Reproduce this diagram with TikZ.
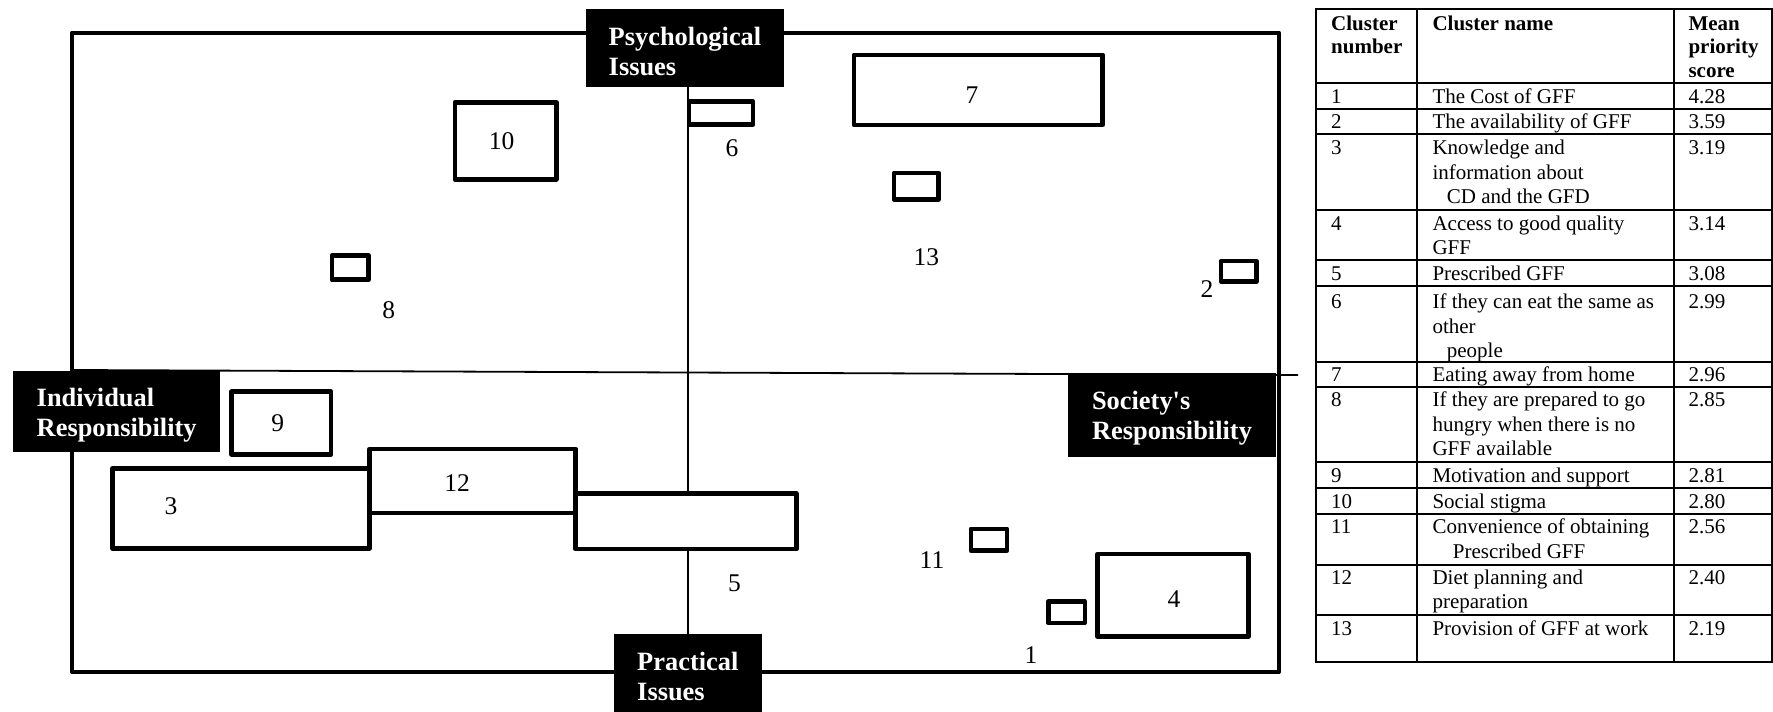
\documentclass[tikz,border=0pt]{standalone}
\usepackage{fontspec}
\setmainfont{Liberation Serif}

\begin{document}
\begin{tikzpicture}[x=1pt, y=-1pt,
cluster/.style={draw, fill=white, line width=4.6pt, line join=round, inner sep=0, outer sep=0},
heading/.style={fill=black, text=white, inner sep=0, align=left,
  font=\fontsize{26.4}{30}\selectfont\bfseries},
number/.style={inner sep=0, font=\fontsize{25.5}{30}\selectfont},
axis/.style={line width=1.8pt},
cell/.style={anchor=north west, yshift=17pt, inner sep=0, align=left, font=\fontsize{21}{24.5}\selectfont},
head/.style={cell, font=\fontsize{21}{23.6}\selectfont\bfseries},
grid/.style={line width=2pt, line cap=rect}]
  \useasboundingbox (0,0) rectangle (1773,712);
  \fill[white] (0,0) rectangle (1773,712);

  % map frame and quadrant headings
  \node[draw, line width=4.4pt, line join=round, inner sep=0, minimum width=1207pt, minimum height=639pt] (frame) at (675.5,352.2) {};
  \node[heading, minimum width=198pt, minimum height=77.4pt] (psy) at (685,48) {\rule{0pt}{25pt}Psychological\\Issues};
  \node[heading, minimum width=147.6pt, minimum height=78pt] (prac) at (687.8,673) {\rule{0pt}{25pt}Practical\\Issues};
  \node[heading, minimum width=206.6pt, minimum height=80.7pt] (ind) at (116.7,411.35) {\rule{0pt}{25pt}Individual\\Responsibility};
  \node[heading, minimum width=208pt, minimum height=84pt] (soc) at (1172,415) {\rule{0pt}{25pt}Society\textquotesingle s\\Responsibility};

  % axes
  \coordinate (hleft) at (72,370);
  \coordinate (hright) at (1298,375);
  \draw[axis] (hleft) -- (hright);
  \draw[axis] (psy.south -| prac.north) -- (prac.north);

  % clusters
  \node[cluster, minimum width=101.3pt, minimum height=77pt] (c10) at (505.6,140.7) {};
  \node[cluster, minimum width=36.7pt, minimum height=24.3pt] (c8) at (350.3,267.6) {};
  \node[cluster, minimum width=64.3pt, minimum height=22.8pt] (c6) at (721,113.1) {};
  \node[cluster, minimum width=248.9pt, minimum height=70pt] (c7) at (978.3,89.8) {};
  \node[cluster, minimum width=44.6pt, minimum height=26.7pt] (c13) at (916.3,186.2) {};
  \node[cluster, minimum width=35.7pt, minimum height=20.3pt] (c2) at (1238.7,271.3) {};
  \node[cluster, minimum width=99.5pt, minimum height=62.5pt] (c9) at (281.3,423) {};
  \node[cluster, minimum width=257.1pt, minimum height=80pt] (c3) at (241,508.3) {};
  \node[cluster, minimum width=206.1pt, minimum height=64.2pt] (c12) at (472.6,480.9) {};
  \node[cluster, minimum width=220.5pt, minimum height=55.5pt] (c5) at (686,521.3) {};
  \node[cluster, minimum width=36.1pt, minimum height=21.7pt] (c11) at (988.9,539.7) {};
  \node[cluster, minimum width=36.6pt, minimum height=21.3pt] (c1) at (1066.5,612.2) {};
  \node[cluster, minimum width=150.7pt, minimum height=82.9pt] (c4) at (1172.9,595.3) {};

  % cluster numbers
  \node[number] (l10) at (501.6,140.8) {10};
  \node[number] (l8) at (388.8,310.5) {8};
  \node[number] (l6) at (732,148) {6};
  \node[number] (l7) at (972,94.7) {7};
  \node[number] (l13) at (926.3,257) {13};
  \node[number] (l2) at (1207,288.7) {2};
  \node[number] (l9) at (277.7,422.8) {9};
  \node[number] (l3) at (171,506) {3};
  \node[number] (l12) at (457,483.3) {12};
  \node[number] (l5) at (734.6,583.3) {5};
  \node[number] (l11) at (932,560) {11};
  \node[number] (l1) at (1031,655.3) {1};
  \node[number] (l4) at (1174,599) {4};

  % legend table
  \foreach \y in {9.3,82.7,109,134.3,210,260,285.7,361.7,387.3,461.7,487.7,514,565,615,661.7}
    \draw[grid] (1315.7,\y) -- (1772,\y);
  \foreach \x in {1315.7,1416.7,1674,1772}
    \draw[grid] (\x,9.3) -- (\x,661.7);
  \node[head] (hnum) at (1331,30) {\rule{0pt}{17pt}Cluster\\number};
  \node[head] (hname) at (1432.3,30) {\rule{0pt}{17pt}Cluster name};
  \node[head] (hscore) at (1688.3,30) {\rule{0pt}{17pt}Mean\\priority\\score};
  \foreach \n/\y/\txt/\s in {
    1/103.3/{The Cost of GFF}/4.28,
    2/128.3/{The availability of GFF}/3.59,
    3/154.3/{Knowledge and\\information about\\\hspace*{14.4pt}CD and the GFD}/3.19,
    4/230/{Access to good quality\\GFF}/3.14,
    5/280/{Prescribed GFF}/3.08,
    6/308.3/{If they can eat the same as\\other\\\hspace*{14.4pt}people}/2.99,
    7/381.7/{Eating away from home}/2.96,
    8/406.7/{If they are prepared to go\\hungry when there is no\\GFF available}/2.85,
    9/482.3/{Motivation and support}/2.81,
    10/508.3/{Social stigma}/2.80,
    11/533.3/{Convenience of obtaining\\\hspace*{20.4pt}Prescribed GFF}/2.56,
    12/584/{Diet planning and\\preparation}/2.40,
    13/635/{Provision of GFF at work}/2.19}
  {
    \node[cell] (num\n) at (1331,\y) {\rule{0pt}{17pt}\n};
    \node[cell] (name\n) at (1432.3,\y) {\rule{0pt}{17pt}\txt};
    \node[cell] (score\n) at (1688.3,\y) {\rule{0pt}{17pt}\s};
  }
\end{tikzpicture}
\end{document}
